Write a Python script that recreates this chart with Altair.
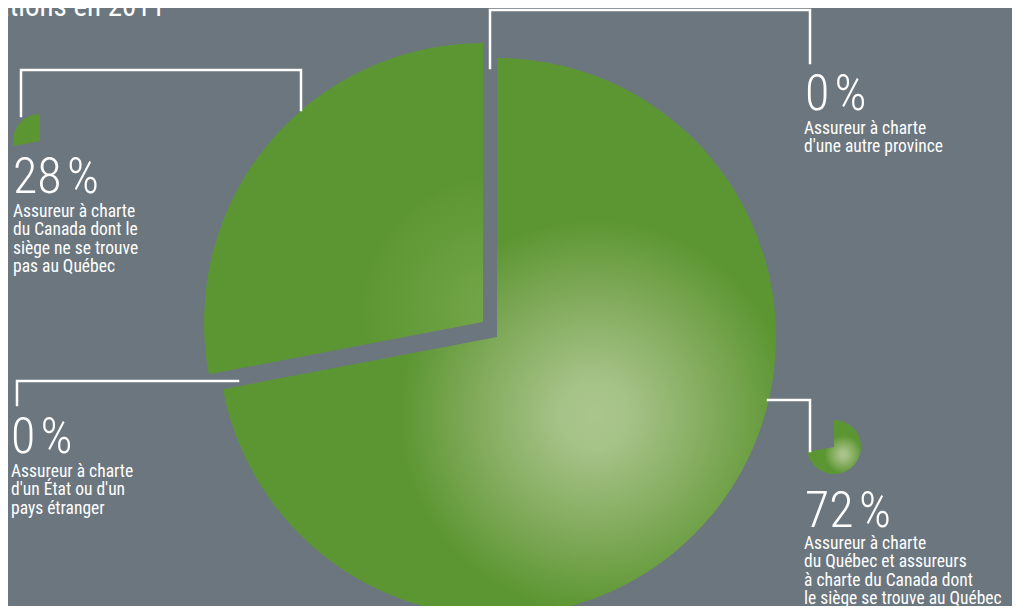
import math
import altair as alt
import pandas as pd

# ---------------- data ----------------
keys = ["qc", "ca", "autre", "etranger"]
values = [72, 28, 0, 0]
label_lines = [
    ["Assureur à charte", "du Québec et assureurs", "à charte du Canada dont", "le siège se trouve au Québec"],
    ["Assureur à charte", "du Canada dont le", "siège ne se trouve", "pas au Québec"],
    ["Assureur à charte", "d'une autre province"],
    ["Assureur à charte", "d'un État ou d'un", "pays étranger"],
]
title_text = "Répartition des cotisations en 2011"

# ---------------- layout (chart pixel coordinates) ----------------
BG = "#6b767e"
GREEN = "#5c9632"
FONT = "Roboto Condensed, Liberation Sans Narrow, Arial Narrow, DejaVu Sans Condensed, sans-serif"
W, H = 1004, 598

pie_r = 279
centers = {"qc": (489, 329), "ca": (475, 314)}
icon_r = 27
icon_centers = {"qc": (826, 439), "ca": (32, 133)}
# label anchor: (x_pct, baseline_pct, x_sub, baseline_sub)
label_pos = {
    "qc": (797, 519, 796, 541),
    "ca": (5, 185, 5, 209),
    "autre": (797, 102, 796, 126),
    "etranger": (3, 445, 3, 469),
}
leaders = {
    "qc": [(760, 392), (802, 392), (802, 443)],
    "ca": [(13, 108), (13, 62), (293, 62), (293, 102)],
    "autre": [(482, 60), (482, 2), (802, 2), (802, 55)],
    "etranger": [(9, 397), (9, 373), (230, 373)],
}

df = pd.DataFrame({"key": keys, "value": values, "order": list(range(len(keys)))})

base = (
    alt.Chart(df)
    .transform_window(cum="sum(value)", sort=[alt.SortField("order")], frame=[None, 0])
    .transform_calculate(
        a0="(datum.cum - datum.value) / 100 * 2 * PI",
        a1="datum.cum / 100 * 2 * PI",
    )
)

grad72 = alt.RadialGradient(
    gradient="radial",
    stops=[
        alt.GradientStop(color="#aac58d", offset=0.0),
        alt.GradientStop(color="#a5c287", offset=0.18),
        alt.GradientStop(color="#82ab5c", offset=0.6),
        alt.GradientStop(color=GREEN, offset=1.0),
    ],
    x1=0.67, y1=0.64, r1=0.0,
    x2=0.67, y2=0.64, r2=0.35,
)
grad28 = alt.RadialGradient(
    gradient="radial",
    stops=[
        alt.GradientStop(color="#74a649", offset=0.0),
        alt.GradientStop(color=GREEN, offset=1.0),
    ],
    x1=0.95, y1=0.8, r1=0.0,
    x2=0.95, y2=0.8, r2=0.4,
)


def slice_layer(key, center, radius, fill):
    return (
        base.transform_filter(alt.datum.key == key)
        .mark_arc(radius=radius, fill=fill)
        .encode(
            theta=alt.Theta("a0:Q", scale=None),
            theta2=alt.Theta2("a1:Q"),
            x=alt.value(center[0]),
            y=alt.value(center[1]),
        )
    )


layers = [
    slice_layer("qc", centers["qc"], pie_r, grad72),
    slice_layer("ca", centers["ca"], pie_r, grad28),
    slice_layer("qc", icon_centers["qc"], icon_r, grad72),
    slice_layer("ca", icon_centers["ca"], icon_r, GREEN),
]

# leader lines
rows = []
for k, pts in leaders.items():
    for i, (px, py) in enumerate(pts):
        rows.append({"seg": k, "i": i, "px": px, "py": py})
lines = (
    alt.Chart(pd.DataFrame(rows))
    .mark_line(color="white", strokeWidth=2.5, strokeCap="square", strokeJoin="miter")
    .encode(
        x=alt.X("px:Q", scale=None),
        y=alt.Y("py:Q", scale=None),
        detail="seg:N",
        order="i:Q",
    )
)
layers.append(lines)

# labels
trows = []
for k, v, ll in zip(keys, values, label_lines):
    xp, yp, xs, ys = label_pos[k]
    trows.append({"px": xp, "py": yp, "txt": f"{v}\u200a%", "kind": "pct"})
    trows.append({"px": xs, "py": ys, "txt": "\n".join(ll), "kind": "sub"})
tdf = pd.DataFrame(trows)

pct_text = (
    alt.Chart(tdf)
    .transform_filter(alt.datum.kind == "pct")
    .mark_text(align="left", baseline="alphabetic", font=FONT, fontSize=50,
               fontWeight=300, color="white")
    .encode(x=alt.X("px:Q", scale=None), y=alt.Y("py:Q", scale=None), text="txt:N")
)
sub_text = (
    alt.Chart(tdf)
    .transform_filter(alt.datum.kind == "sub")
    .mark_text(align="left", baseline="alphabetic", font=FONT, fontSize=17.5,
               lineHeight=18.3, lineBreak="\n", color="white")
    .encode(x=alt.X("px:Q", scale=None), y=alt.Y("py:Q", scale=None), text="txt:N")
)
title = (
    alt.Chart(pd.DataFrame({"t": [title_text]}))
    .mark_text(align="right", baseline="alphabetic", font=FONT, fontSize=29, color="white")
    .encode(x=alt.value(157), y=alt.value(8), text="t:N")
)
layers += [pct_text, sub_text, title]

chart = (
    alt.layer(*layers)
    .properties(width=W, height=H, background=BG, padding=0,
                autosize=alt.AutoSizeParams(type="none"))
    .configure_view(stroke=None)
)

chart.save("out.html", embed_options={"renderer": "svg", "actions": False})
